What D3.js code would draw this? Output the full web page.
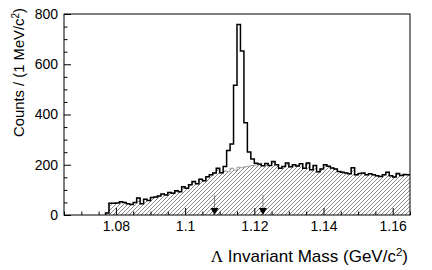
<!DOCTYPE html>
<html>
<head>
<meta charset="utf-8">
<script src="https://cdn.jsdelivr.net/npm/d3@7"></script>
<style>
  body { margin: 0; background: #fff; }
  text { font-family: "Liberation Sans", Arial, sans-serif; fill: #000; }
</style>
</head>
<body>
<svg id="chart" width="432" height="270"></svg>
<script>
// histogram data: 1 MeV bins, first filled bin starts at 1.077 GeV
var firstBin = 1.077;
var binWidth = 0.001;

// all candidates
var totalCounts = [8,
  47, 47, 48, 53, 50, 45, 42, 50, 68, 45,
  63, 58, 70, 72, 76, 84, 80, 90, 87, 97,
  93, 112, 106, 120, 133, 124, 142, 136, 152, 160,
  167, 186, 168, 193, 257, 283, 516, 758, 653, 367,
  251, 223, 206, 203, 196, 205, 197, 213, 200, 186,
  193, 207, 192, 200, 195, 204, 186, 207, 180, 197,
  172, 183, 200, 194, 187, 183, 173, 170, 167, 164,
  188, 160, 165, 167, 160, 164, 160, 156, 153, 160,
  170, 156, 151, 165, 157, 161, 160];

// background (hatched)
var bgCounts = [8,
  47, 47, 48, 53, 50, 45, 42, 50, 68, 45,
  63, 58, 70, 72, 76, 84, 80, 90, 87, 97,
  93, 112, 106, 120, 133, 124, 142, 136, 152, 160,
  167, 180, 168, 175, 172, 186, 178, 190, 188, 192,
  194, 197, 199, 200, 196, 205, 197, 213, 200, 186,
  193, 207, 192, 200, 195, 204, 186, 207, 180, 197,
  172, 183, 200, 194, 187, 183, 173, 170, 167, 164,
  188, 160, 165, 167, 160, 164, 160, 156, 153, 160,
  170, 156, 151, 165, 157, 161, 160];

// signal window arrows
var arrowMass = [1.1085, 1.1225];

var xLabels = [1.08, 1.1, 1.12, 1.14, 1.16];
var yLabels = [0, 200, 400, 600, 800];

// frame (window.top is taken, so prefix these)
var plotLeft = 64, plotRight = 410, plotTop = 14, plotBottom = 215;

var svg = d3.select('#chart');

var x = d3.scaleLinear().domain([1.065, 1.165]).range([plotLeft, plotRight]);
var y = d3.scaleLinear().domain([0, 800]).range([plotBottom, plotTop]);

// turn counts into step points (lo edge, value) + closing edge
function stepPoints(counts) {
  var pts = counts.map(function(c, i) {
    return [firstBin + i * binWidth, c];
  });
  pts.push([firstBin + counts.length * binWidth, counts[counts.length - 1]]);
  return pts;
}

// hatch pattern
svg.append('defs').append('pattern')
  .attr('id', 'hatch')
  .attr('patternUnits', 'userSpaceOnUse')
  .attr('width', 4)
  .attr('height', 4)
  .append('path')
  .attr('d', 'M-1,1 l2,-2 M0,4 l4,-4 M3,5 l2,-2')
  .attr('stroke', '#555')
  .attr('stroke-width', 0.7);

// background histogram
var bgPts = stepPoints(bgCounts);
svg.append('path')
  .datum(bgPts)
  .attr('d', d3.area()
    .curve(d3.curveStepAfter)
    .x(function(d) { return x(d[0]); })
    .y0(y(0))
    .y1(function(d) { return y(d[1]); }))
  .attr('fill', 'url(#hatch)')
  .attr('stroke', 'none');
svg.append('path')
  .datum(bgPts)
  .attr('d', d3.line()
    .curve(d3.curveStepAfter)
    .x(function(d) { return x(d[0]); })
    .y(function(d) { return y(d[1]); }))
  .attr('fill', 'none')
  .attr('stroke', '#999')
  .attr('stroke-width', 1);

// total histogram, starting from the baseline
var totPts = [[firstBin, 0]].concat(stepPoints(totalCounts));
svg.append('path')
  .datum(totPts)
  .attr('d', d3.line()
    .curve(d3.curveStepAfter)
    .x(function(d) { return x(d[0]); })
    .y(function(d) { return y(d[1]); }))
  .attr('fill', 'none')
  .attr('stroke', '#000')
  .attr('stroke-width', 1.5);

// arrows marking the mass window
var arrows = svg.append('g').selectAll('g')
  .data(arrowMass)
  .enter()
  .append('g');
arrows.append('line')
  .attr('x1', function(d) { return x(d); })
  .attr('x2', function(d) { return x(d); })
  .attr('y1', y(80))
  .attr('y2', y(25))
  .attr('stroke', '#888')
  .attr('stroke-width', 1);
arrows.append('path')
  .attr('d', function(d) {
    var px = x(d);
    return 'M' + (px - 4) + ',' + y(28) + 'L' + (px + 4) + ',' + y(28) +
      'L' + px + ',' + y(0) + 'Z';
  })
  .attr('fill', '#000');

// axes: ticks point inward, minor every 50 / 0.005
var yMinor = d3.range(0, 801, 50).filter(function(v) { return v % 200 !== 0; });
var xMinor = d3.range(213, 234)
  .filter(function(i) { return i % 4 !== 0; })
  .map(function(i) { return i * 0.005; });

function styleAxis(g) {
  g.select('.domain').remove();
  g.selectAll('.tick line').attr('stroke', '#000').attr('stroke-width', 1);
  g.selectAll('text').style('font-size', '14px');
}

svg.append('g')
  .attr('transform', 'translate(' + plotLeft + ',0)')
  .call(d3.axisLeft(y).tickValues(yMinor).tickSize(-3.5).tickFormat(''))
  .call(styleAxis);
svg.append('g')
  .attr('transform', 'translate(' + plotLeft + ',0)')
  .call(d3.axisLeft(y).tickValues(yLabels).tickSize(-7).tickPadding(6)
    .tickFormat(d3.format('d')))
  .call(styleAxis);

svg.append('g')
  .attr('transform', 'translate(0,' + plotBottom + ')')
  .call(d3.axisBottom(x).tickValues(xMinor).tickSize(-3.5).tickFormat(''))
  .call(styleAxis);
svg.append('g')
  .attr('transform', 'translate(0,' + plotBottom + ')')
  .call(d3.axisBottom(x).tickValues(xLabels).tickSize(-7).tickPadding(6)
    .tickFormat(function(d) { return String(+d.toFixed(3)); }))
  .call(styleAxis);

// frame box
svg.append('rect')
  .attr('x', plotLeft)
  .attr('y', plotTop)
  .attr('width', plotRight - plotLeft)
  .attr('height', plotBottom - plotTop)
  .attr('fill', 'none')
  .attr('stroke', '#000')
  .attr('stroke-width', 1);

// axis titles
var xt = svg.append('text')
  .attr('x', 408)
  .attr('y', 262)
  .attr('text-anchor', 'end')
  .style('font-size', '17px');
xt.append('tspan').style('font-family', '"Liberation Serif", serif').text('\u039B');
xt.append('tspan').text(' Invariant Mass (GeV/c');
xt.append('tspan').attr('dy', -6).style('font-size', '11.5px').text('2');
xt.append('tspan').attr('dy', 6).text(')');

var yt = svg.append('text')
  .attr('transform', 'translate(24,8) rotate(-90)')
  .attr('text-anchor', 'end')
  .style('font-size', '14.8px');
yt.append('tspan').text('Counts / (1 MeV/c');
yt.append('tspan').attr('dy', -5).style('font-size', '10px').text('2');
yt.append('tspan').attr('dy', 5).text(')');
</script>
</body>
</html>
